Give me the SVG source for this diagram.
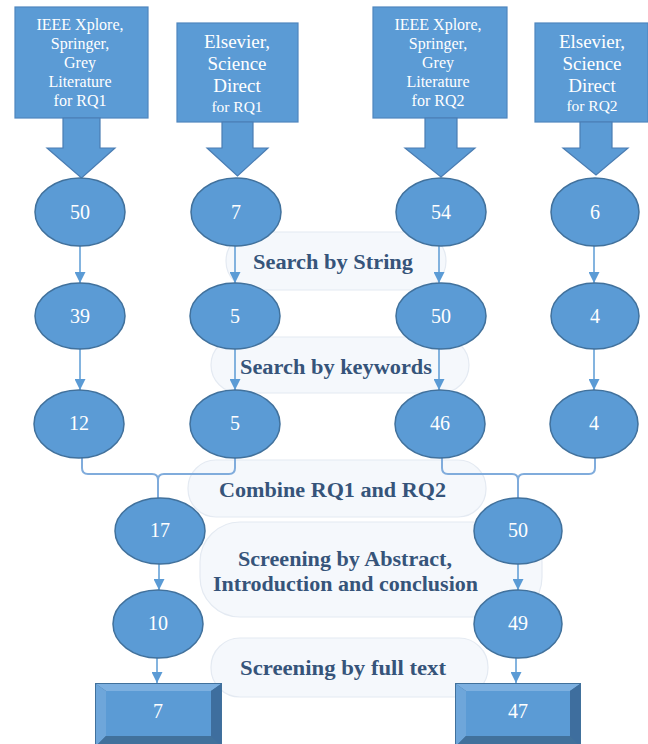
<svg xmlns="http://www.w3.org/2000/svg" width="648" height="744" viewBox="0 0 648 744">
  <style>
    .src { fill: #5B9BD5; stroke: #4F86BF; stroke-width: 1.2; }
    .blk { fill: #5B9BD5; stroke: #4A7DB3; stroke-width: 1.2; }
    .ell { fill: #5B9BD5; stroke: #41719C; stroke-width: 1.5; }
    .pill { fill: #F5F8FC; stroke: #E4EAF2; stroke-width: 1.2; }
    .src-t { font-family: "Liberation Serif", "Times New Roman", serif; fill: #FFFFFF; text-anchor: middle; }
    .num { font-family: "Liberation Serif", "Times New Roman", serif; font-size: 20px; fill: #FFFFFF; text-anchor: middle; }
    .lbl { font-family: "Liberation Serif", "Times New Roman", serif; font-size: 20.5px; font-weight: bold; fill: #36547A; }
    .ln { fill: none; stroke: #5B9BD5; stroke-width: 1.5; }
    .mg { fill: none; stroke: #80ACDC; stroke-width: 2; }
    .face { fill: #5B9BD5; }
    .bv-t { fill: #7DB0E0; }
    .bv-l { fill: #6EA6DA; }
    .bv-r { fill: #3E6E9E; }
    .bv-b { fill: #41719C; }
  </style>
  <defs>
    <marker id="arrow" viewBox="0 0 12 12" refX="12" refY="6" markerWidth="12" markerHeight="11" markerUnits="userSpaceOnUse" orient="auto">
      <path d="M0,0 L12,6 L0,12 Z" fill="#5B9BD5"/>
    </marker>
  </defs>

  <!-- stage labels (light pills behind the flow) -->
  <g id="labels">
    <g id="lbl-string">
      <rect class="pill" x="226" y="232" width="220" height="58" rx="29"/>
      <text class="lbl" x="253" y="269" textLength="160" lengthAdjust="spacingAndGlyphs">Search by String</text>
    </g>
    <g id="lbl-keywords">
      <rect class="pill" x="211" y="337" width="258" height="56" rx="28"/>
      <text class="lbl" x="240" y="374" textLength="192" lengthAdjust="spacingAndGlyphs">Search by keywords</text>
    </g>
    <g id="lbl-combine">
      <rect class="pill" x="188" y="460" width="298" height="57" rx="28"/>
      <text class="lbl" x="219" y="497" textLength="227" lengthAdjust="spacingAndGlyphs">Combine RQ1 and RQ2</text>
    </g>
    <g id="lbl-abstract">
      <rect class="pill" x="200" y="522" width="342" height="95" rx="40"/>
      <text class="lbl" x="238" y="566" textLength="214" lengthAdjust="spacingAndGlyphs">Screening by Abstract,</text>
      <text class="lbl" x="213" y="591" textLength="265" lengthAdjust="spacingAndGlyphs">Introduction and conclusion</text>
    </g>
    <g id="lbl-fulltext">
      <rect class="pill" x="211" y="638" width="277" height="59" rx="29"/>
      <text class="lbl" x="240" y="675" textLength="206" lengthAdjust="spacingAndGlyphs">Screening by full text</text>
    </g>
  </g>

  <!-- source databases with block arrows -->
  <g id="src-ieee-rq1">
    <rect class="src" x="15" y="7" width="133" height="111"/>
    <text class="src-t" font-size="16" x="80" y="30">IEEE Xplore,</text>
    <text class="src-t" font-size="16" x="80" y="49">Springer,</text>
    <text class="src-t" font-size="16" x="80" y="68">Grey</text>
    <text class="src-t" font-size="16" x="80" y="87">Literature</text>
    <text class="src-t" font-size="16" x="80" y="106">for RQ1</text>
    <path class="blk" d="M63,118 H100 V148 H115 L81.5,178 L47,148 H63 Z"/>
  </g>
  <g id="src-elsevier-rq1">
    <rect class="src" x="177" y="23" width="121" height="99"/>
    <text class="src-t" font-size="19" x="237" y="48">Elsevier,</text>
    <text class="src-t" font-size="19" x="237" y="70">Science</text>
    <text class="src-t" font-size="19" x="237" y="92">Direct</text>
    <text class="src-t" font-size="15.5" x="237" y="112">for RQ1</text>
    <path class="blk" d="M222,122 H253 V148 H268 L237.5,176 L207,148 H222 Z"/>
  </g>
  <g id="src-ieee-rq2">
    <rect class="src" x="373" y="7" width="134" height="111"/>
    <text class="src-t" font-size="16" x="438" y="30">IEEE Xplore,</text>
    <text class="src-t" font-size="16" x="438" y="49">Springer,</text>
    <text class="src-t" font-size="16" x="438" y="68">Grey</text>
    <text class="src-t" font-size="16" x="438" y="87">Literature</text>
    <text class="src-t" font-size="16" x="438" y="106">for RQ2</text>
    <path class="blk" d="M425,118 H457 V148 H475 L441,177 L405,148 H425 Z"/>
  </g>
  <g id="src-elsevier-rq2">
    <rect class="src" x="535" y="23" width="113" height="99"/>
    <text class="src-t" font-size="19" x="592" y="48">Elsevier,</text>
    <text class="src-t" font-size="19" x="592" y="70">Science</text>
    <text class="src-t" font-size="19" x="592" y="92">Direct</text>
    <text class="src-t" font-size="15.5" x="592" y="111">for RQ2</text>
    <path class="blk" d="M580,122 H612 V148 H628 L596,175 L563,148 H580 Z"/>
  </g>

  <!-- connectors -->
  <g id="connectors">
    <line class="ln" x1="80" y1="245" x2="80" y2="283" marker-end="url(#arrow)"/>
    <line class="ln" x1="235" y1="245" x2="235" y2="283" marker-end="url(#arrow)"/>
    <line class="ln" x1="439" y1="245" x2="439" y2="283" marker-end="url(#arrow)"/>
    <line class="ln" x1="594" y1="245" x2="594" y2="283" marker-end="url(#arrow)"/>

    <line class="ln" x1="80" y1="349" x2="80" y2="390" marker-end="url(#arrow)"/>
    <line class="ln" x1="235" y1="349" x2="235" y2="390" marker-end="url(#arrow)"/>
    <line class="ln" x1="439" y1="349" x2="439" y2="390" marker-end="url(#arrow)"/>
    <line class="ln" x1="594" y1="349" x2="594" y2="390" marker-end="url(#arrow)"/>

    <path class="mg" d="M82,457 V468 Q82,474 88,474 H152 Q158,474 158,480 V498"/>
    <path class="mg" d="M235,457 V468 Q235,474 229,474 H164 Q158,474 158,480"/>
    <path class="mg" d="M442,457 V468 Q442,474 448,474 H512 Q518,474 518,480 V498"/>
    <path class="mg" d="M595,457 V468 Q595,474 589,474 H524 Q518,474 518,480"/>

    <line class="ln" x1="159" y1="563" x2="159" y2="590" marker-end="url(#arrow)"/>
    <line class="ln" x1="518" y1="563" x2="518" y2="590" marker-end="url(#arrow)"/>

    <line class="ln" x1="157" y1="657" x2="157" y2="683" marker-end="url(#arrow)"/>
    <line class="ln" x1="516" y1="657" x2="516" y2="683" marker-end="url(#arrow)"/>
  </g>

  <!-- count nodes -->
  <g id="n-r1-50"><ellipse class="ell" cx="80" cy="212" rx="45" ry="34"/><text class="num" x="80" y="219">50</text></g>
  <g id="n-r1-7"><ellipse class="ell" cx="236" cy="212" rx="45" ry="34"/><text class="num" x="236" y="219">7</text></g>
  <g id="n-r1-54"><ellipse class="ell" cx="441" cy="212" rx="45" ry="34"/><text class="num" x="441" y="219">54</text></g>
  <g id="n-r1-6"><ellipse class="ell" cx="595" cy="212" rx="44" ry="34"/><text class="num" x="595" y="219">6</text></g>

  <g id="n-r2-39"><ellipse class="ell" cx="80" cy="316" rx="45" ry="33"/><text class="num" x="80" y="323">39</text></g>
  <g id="n-r2-5"><ellipse class="ell" cx="235" cy="316" rx="45" ry="33"/><text class="num" x="235" y="323">5</text></g>
  <g id="n-r2-50"><ellipse class="ell" cx="441" cy="316" rx="45" ry="33"/><text class="num" x="441" y="323">50</text></g>
  <g id="n-r2-4"><ellipse class="ell" cx="595" cy="316" rx="44" ry="33"/><text class="num" x="595" y="323">4</text></g>

  <g id="n-r3-12"><ellipse class="ell" cx="79" cy="424" rx="45" ry="34"/><text class="num" x="79" y="430">12</text></g>
  <g id="n-r3-5"><ellipse class="ell" cx="235" cy="424" rx="45" ry="34"/><text class="num" x="235" y="430">5</text></g>
  <g id="n-r3-46"><ellipse class="ell" cx="440" cy="424" rx="45" ry="34"/><text class="num" x="440" y="430">46</text></g>
  <g id="n-r3-4"><ellipse class="ell" cx="594" cy="424" rx="44" ry="34"/><text class="num" x="594" y="430">4</text></g>

  <g id="n-r4-17"><ellipse class="ell" cx="160" cy="531" rx="45" ry="33"/><text class="num" x="160" y="537">17</text></g>
  <g id="n-r4-50"><ellipse class="ell" cx="518" cy="531" rx="44" ry="33"/><text class="num" x="518" y="537">50</text></g>

  <g id="n-r5-10"><ellipse class="ell" cx="158" cy="624" rx="45" ry="34"/><text class="num" x="158" y="630">10</text></g>
  <g id="n-r5-49"><ellipse class="ell" cx="518" cy="624" rx="44" ry="34"/><text class="num" x="518" y="630">49</text></g>

  <!-- final counts (bevelled boxes) -->
  <g id="final-rq1">
    <rect x="95" y="683" width="127" height="64" fill="#41719C"/>
    <polygon class="bv-t" points="96,684 221,684 211,691 106,691"/>
    <polygon class="bv-l" points="96,684 106,691 106,736 96,746"/>
    <polygon class="bv-r" points="221,684 221,746 211,736 211,691"/>
    <polygon class="bv-b" points="96,746 106,736 211,736 221,746"/>
    <rect class="face" x="106" y="691" width="105" height="45"/>
    <text class="num" x="158" y="718">7</text>
  </g>
  <g id="final-rq2">
    <rect x="455" y="683" width="126" height="64" fill="#41719C"/>
    <polygon class="bv-t" points="456,684 580,684 570,691 466,691"/>
    <polygon class="bv-l" points="456,684 466,691 466,736 456,746"/>
    <polygon class="bv-r" points="580,684 580,746 570,736 570,691"/>
    <polygon class="bv-b" points="456,746 466,736 570,736 580,746"/>
    <rect class="face" x="466" y="691" width="104" height="45"/>
    <text class="num" x="518" y="718">47</text>
  </g>
</svg>
